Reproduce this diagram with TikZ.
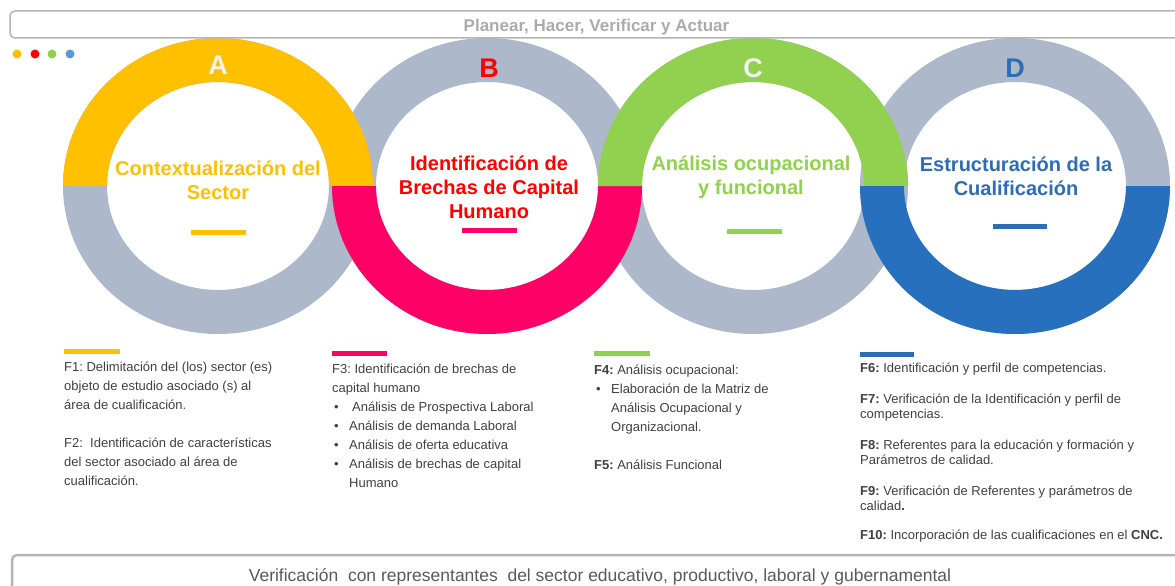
\documentclass[tikz,border=0pt]{standalone}
\usepackage{fontspec}
\setmainfont{Liberation Sans}
\usetikzlibrary{positioning,calc}
\frenchspacing

\definecolor{ringgray}{HTML}{ADB9CA}
\definecolor{cyellow}{HTML}{FFC000}
\definecolor{cpink}{HTML}{FF0066}
\definecolor{cred}{HTML}{FF0000}
\definecolor{cgreen}{HTML}{92D050}
\definecolor{cblue}{HTML}{2670BD}
\definecolor{tblue}{HTML}{2E6DB4}
\definecolor{dotblue}{HTML}{5B9BD5}
\definecolor{lightletter}{HTML}{F2F2F2}
\definecolor{txtgray}{HTML}{404040}
\definecolor{topgray}{HTML}{ABABAB}
\definecolor{botgray}{HTML}{595959}
\definecolor{framegray}{HTML}{B4B4B4}

\begin{document}
\begin{tikzpicture}[x=1pt,y=1pt,
  letter/.style={inner sep=0pt,font=\fontsize{27}{27}\selectfont\bfseries},
  heading/.style={align=center,inner sep=0pt,font=\fontsize{20}{24}\selectfont\bfseries},
  body/.style={anchor=north west,align=left,inner sep=0pt,text=txtgray,font=\fontsize{13}{19}\selectfont},
  bodytight/.style={body,font=\fontsize{13}{15}\selectfont},
  bar/.style={line width=5pt},
  frame/.style={draw=framegray,rounded corners=5pt,inner sep=0pt}]
  \useasboundingbox (0,0) rectangle (1175,-586);
  \coordinate (pA) at (218,-186);
  \coordinate (pB) at (487,-186);
  \coordinate (pC) at (753,-186);
  \coordinate (pD) at (1015,-186);

  % rings, gray first
  \foreach \p in {pA,pB,pC,pD}
    \fill[ringgray,even odd rule] (\p) ellipse[x radius=155,y radius=148]
      (\p) ellipse[x radius=111,y radius=104];
  \foreach \p/\col/\a in {pA/cyellow/0,pB/cpink/180,pC/cgreen/0,pD/cblue/180}
    \fill[\col] (\p) ++(\a:155 and 148)
      arc[start angle=\a,delta angle=180,x radius=155,y radius=148]
      -- ++(\a:44 and 0)
      arc[start angle=\a+180,delta angle=-180,x radius=111,y radius=104] -- cycle;

  % letters and headings
  \node[letter,text=lightletter] (lA) at (218,-65) {A};
  \node[letter,text=cred] (lB) at (489,-68) {B};
  \node[letter,text=lightletter] (lC) at (753,-68) {C};
  \node[letter,text=tblue] (lD) at (1015,-68) {D};
  \node[heading,text=cyellow] (tA) at (218,-180.5) {Contextualización del\\Sector};
  \node[heading,text=cred] (tB) at (489,-187) {Identificación de\\Brechas de Capital\\Humano};
  \node[heading,text=cgreen] (tC) at (751,-177.5) {Análisis ocupacional\\y funcional};
  \node[heading,text=tblue] (tD) at (1016,-176) {Estructuración de la\\Cualificación};
  \draw[bar,cyellow] (191,-232) -- (246,-232);
  \draw[bar,cpink] (462,-230) -- (517,-230);
  \draw[bar,cgreen] (727,-231) -- (782,-231);
  \draw[bar,tblue] (993,-226) -- (1047,-226);

  % dots
  \foreach \x/\col in {17/cyellow,35/cred,52/cgreen,70/dotblue}
    \fill[\col] (\x,-54) circle[radius=4.5];

  % frames
  \node[frame,line width=1.5pt,minimum width=1173,minimum height=27,text height=14pt,text depth=0pt,
    text=topgray,font=\fontsize{17}{17}\selectfont\bfseries] (top) at (596.5,-24.5)
    {Planear, Hacer, Verificar y Actuar};
  \node[frame,line width=2.5pt,minimum width=1176,minimum height=44,
    text=botgray,font=\fontsize{17.5}{17.5}\selectfont] (bottom) at (600,-577)
    {\raisebox{1pt}{Verificación\ \ con representantes\ \ del sector educativo, productivo, laboral y gubernamental}};

  % phase texts
  \draw[bar,cyellow] (64,-351) -- (120,-351);
  \draw[bar,cpink] (332,-353) -- (387,-353);
  \draw[bar,cgreen] (594,-353) -- (650,-353);
  \draw[bar,tblue] (860,-354) -- (914,-354);
  \node[body] (fA) at (64,-362) {F1: Delimitación del (los) sector (es)\\
    objeto de estudio asociado (s) al\\área de cualificación.\\[19pt]
    F2:\ \ Identificación de características\\del sector asociado al área de\\cualificación.};
  \node[body] (fB) at (332,-364) {F3: Identificación de brechas de\\capital humano\\
    \makebox[20pt][l]{\hspace*{2pt}\textbullet}Análisis de Prospectiva Laboral\\
    \makebox[17pt][l]{\hspace*{2pt}\textbullet}Análisis de demanda Laboral\\
    \makebox[17pt][l]{\hspace*{2pt}\textbullet}Análisis de oferta educativa\\
    \makebox[17pt][l]{\hspace*{2pt}\textbullet}Análisis de brechas de capital\\
    \hspace*{17pt}Humano};
  \node[body] (fC) at (594,-365) {\textbf{F4:} Análisis ocupacional:\\
    \makebox[17pt][l]{\hspace*{2pt}\textbullet}Elaboración de la Matriz de\\
    \hspace*{17pt}Análisis Ocupacional y\\\hspace*{17pt}Organizacional.\\[19pt]
    \textbf{F5:} Análisis Funcional};
  \node[bodytight] (fD) at (860,-363) {\textbf{F6:} Identificación y perfil de competencias.\\[16pt]
    \textbf{F7:} Verificación de la Identificación y perfil de\\competencias.\\[16pt]
    \textbf{F8:} Referentes para la educación y formación y\\Parámetros de calidad.\\[16pt]
    \textbf{F9:} Verificación de Referentes y parámetros de\\calidad\textbf{.}\\[14pt]
    \textbf{F10:} Incorporación de las cualificaciones en el \textbf{CNC.}};
\end{tikzpicture}
\end{document}
